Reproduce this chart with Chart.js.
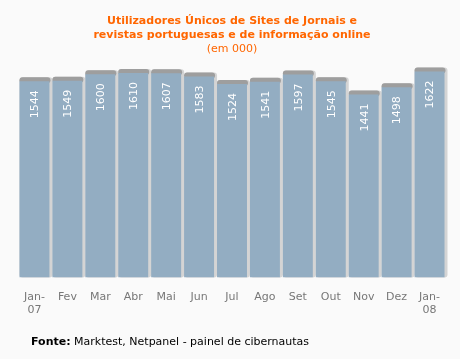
<!DOCTYPE html>
<head>
    <title>utilizadores unicos</title>
    <script src="https://cdn.jsdelivr.net/npm/chart.js@4.4.1/dist/chart.umd.min.js"></script>
    <style>
        body { margin: 0; background: #fafafa; }
        #wrap { position: relative; width: 460px; height: 359px; }
        #fonte { position: absolute; left: 31px; top: 335px; font: 11px "DejaVu Sans", sans-serif; color: #000; }
    </style>
</head>
<body>
<div id="wrap">
    <canvas id="chart" width="460" height="359"></canvas>
    <div id="fonte"><b>Fonte:</b> Marktest, Netpanel - painel de cibernautas</div>
</div>
<script>
var meses = [['Jan-', '07'], 'Fev', 'Mar', 'Abr', 'Mai', 'Jun', 'Jul', 'Ago', 'Set', 'Out', 'Nov', 'Dez', ['Jan-', '08']];
var utilizadores = [1544, 1549, 1600, 1610, 1607, 1583, 1524, 1541, 1597, 1545, 1441, 1498, 1622];

// sombra e topo cinzento das barras
var sombra = {
    id: 'sombra',
    beforeDatasetsDraw: function(chart) {
        var ctx = chart.ctx;
        chart.getDatasetMeta(0).data.forEach(function(bar) {
            var l = bar.x - bar.width / 2;
            ctx.save();
            ctx.fillStyle = '#d4d4d4';
            ctx.beginPath();
            ctx.roundRect(l, bar.y - 4, bar.width + 3, bar.base - bar.y + 4, 3);
            ctx.fill();
            ctx.fillStyle = '#9e9e9e';
            ctx.beginPath();
            ctx.roundRect(l, bar.y - 4, bar.width + 1, 6, 3);
            ctx.fill();
            ctx.restore();
        });
    },
    afterDatasetsDraw: function(chart) {
        var ctx = chart.ctx;
        var ds = chart.data.datasets[0];
        chart.getDatasetMeta(0).data.forEach(function(bar, i) {
            ctx.save();
            ctx.translate(bar.x + 1, bar.y + 9);
            ctx.rotate(-Math.PI / 2);
            ctx.fillStyle = '#ffffff';
            ctx.font = '11px "DejaVu Sans"';
            ctx.textAlign = 'right';
            ctx.textBaseline = 'middle';
            ctx.fillText(String(ds.data[i]), 0, 0);
            ctx.restore();
        });
    }
};

var ctx = document.getElementById('chart').getContext('2d');
var myChart = new Chart(ctx, {
    type: 'bar',
    data: {
        labels: meses,
        datasets: [{
            data: utilizadores,
            backgroundColor: '#93adc2',
            borderWidth: 0,
            categoryPercentage: 1,
            barPercentage: 0.91
        }]
    },
    plugins: [sombra],
    options: {
        responsive: false,
        animation: false,
        layout: { padding: { left: 18, right: 14, top: 10, bottom: 37 } },
        plugins: {
            legend: { display: false },
            tooltip: { enabled: false },
            title: {
                display: true,
                text: ['Utilizadores Únicos de Sites de Jornais e', 'revistas portuguesas e de informação online'],
                color: '#ff6600',
                font: { family: 'DejaVu Sans', size: 11, weight: 'bold', lineHeight: 1.3 },
                padding: { top: 4, bottom: 0 }
            },
            subtitle: {
                display: true,
                text: '(em 000)',
                color: '#ff6600',
                font: { family: 'DejaVu Sans', size: 11, lineHeight: 1.2 },
                padding: { top: 0, bottom: 0 }
            }
        },
        scales: {
            x: {
                grid: { display: false },
                border: { display: false },
                ticks: { color: '#777777', font: { family: 'DejaVu Sans', size: 11 }, padding: 5, maxRotation: 0 }
            },
            y: {
                display: false,
                min: 0,
                max: 1745
            }
        }
    }
});
</script>
</body>
